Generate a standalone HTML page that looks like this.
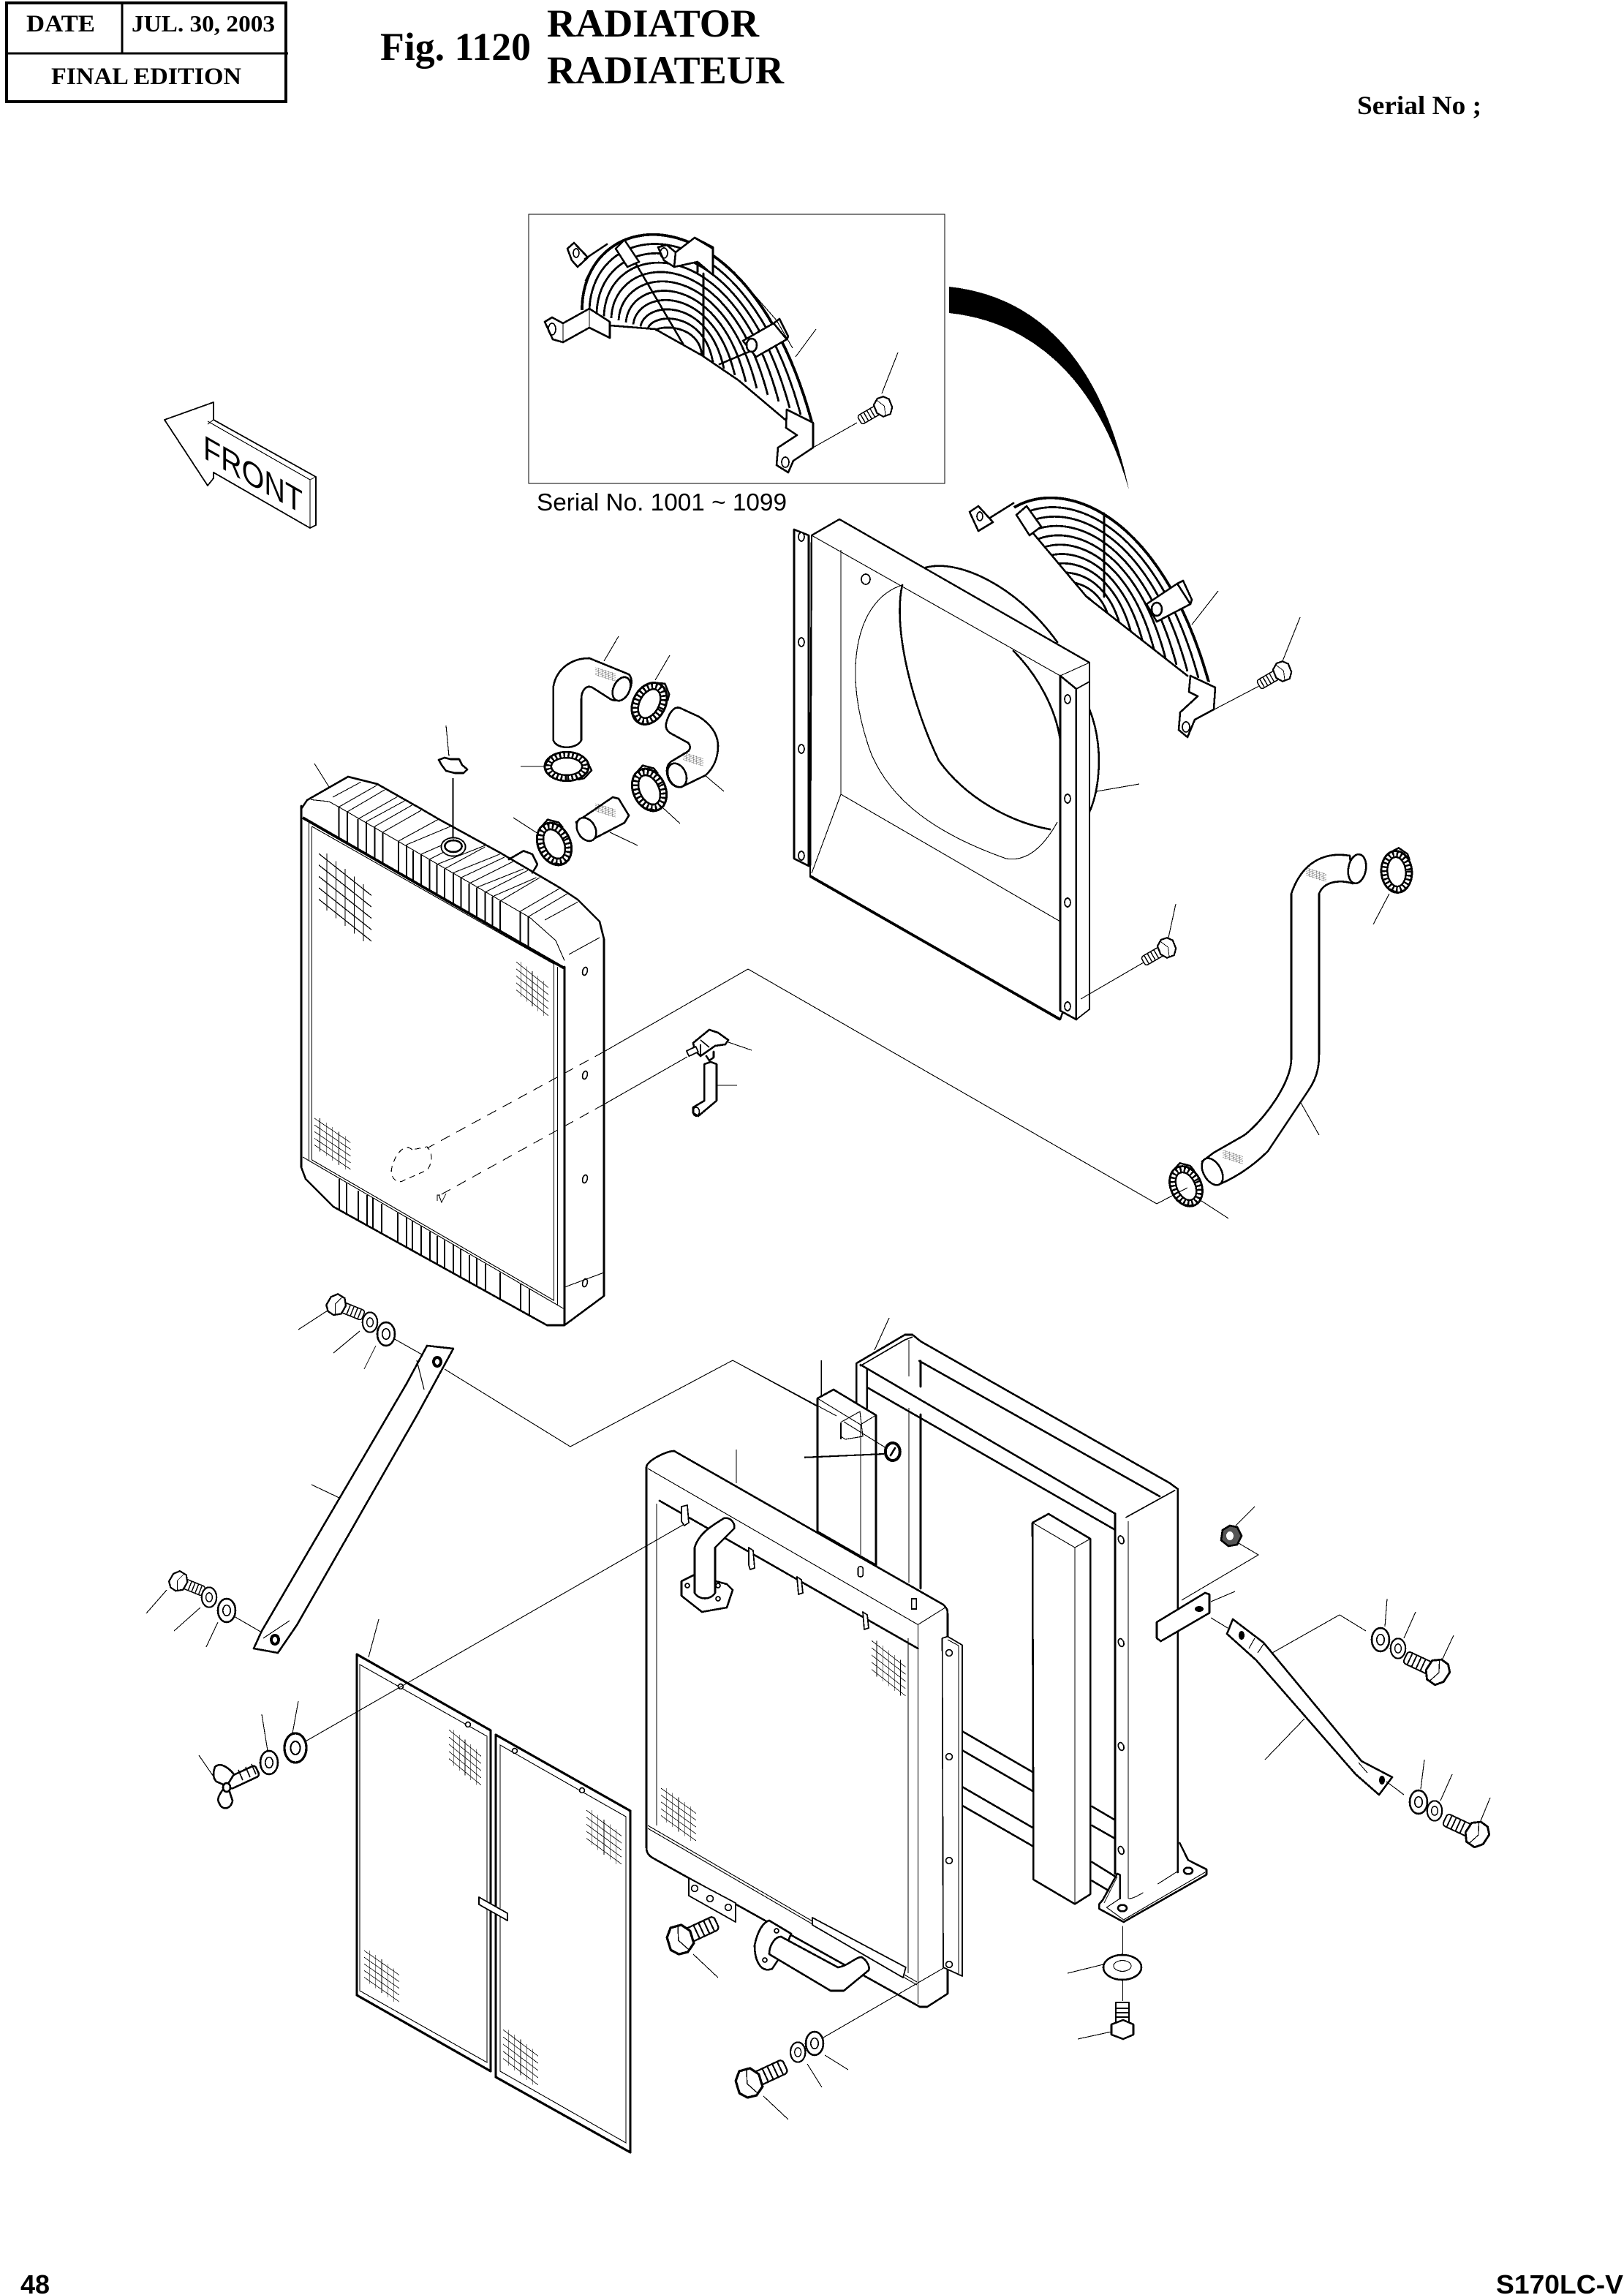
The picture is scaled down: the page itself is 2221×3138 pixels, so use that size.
<!DOCTYPE html>
<html><head><meta charset="utf-8"><title>Fig. 1120 Radiator</title>
<style>
html,body{margin:0;padding:0;background:#fff}
svg{display:block;position:absolute;left:0;top:0}
.k{fill:none;stroke:#000;stroke-width:1.3;stroke-linejoin:round;stroke-linecap:round}
.h{fill:none;stroke:#000;stroke-width:1.6;stroke-linejoin:round}
.w{fill:#fff;stroke:#000;stroke-width:1.3;stroke-linejoin:round}
.v{fill:#fff;stroke:#000;stroke-width:.9;stroke-linejoin:round}
.t{fill:none;stroke:#000;stroke-width:.55}
.m{fill:none;stroke:#000;stroke-width:.85}
.f{fill:none;stroke:#000;stroke-width:1.05}
.d{fill:none;stroke:#000;stroke-width:.55;stroke-dasharray:7 5}
.b{fill:none;stroke:#000;stroke-width:1.9;stroke-linejoin:round}
text{fill:#000}
.s{font-family:"Liberation Serif",serif;font-weight:bold}
.a{font-family:"Liberation Sans",sans-serif}
</style></head><body>
<svg width="2221" height="3138" viewBox="0 0 1110.5 1569" xmlns="http://www.w3.org/2000/svg" shape-rendering="crispEdges">
<defs>
<g id="clamp"><ellipse rx="11" ry="15" class="w" style="stroke-width:1.5"/><ellipse rx="8.8" ry="12.8" fill="none" stroke="#000" stroke-width="3.6" stroke-dasharray="1.3 1.6"/><ellipse rx="6.6" ry="10.6" class="w" style="stroke-width:1.3"/><path d="M-4 -14 3 -17 9 -12 10 -8M-6 12 -1 15" class="k"/></g>
<g id="bolt"><rect x="3" y="-4" width="19" height="8" rx="2" class="v"/><path d="M10 -4v8M13 -4v8M16 -4v8M19 -4v8" class="m"/><path d="M-6 -4 -2 -8 4 -7 7 -2 6 5 1 8 -4 7 -7 3Z" class="w"/><path d="M2 -7 -1 0 2 7" class="t"/></g>
<g id="washer"><ellipse rx="6" ry="8" class="w"/><ellipse rx="2.6" ry="3.6" class="m"/></g>
<g id="hatch" class="t"><path d="M0 2l40 22M0 8l40 22M0 14l40 22M0 20l40 22M0 26l40 22M6 2v30M13 6v30M20 10v30M27 14v30M34 18v30"/></g>
<clipPath id="cz"><path d="M434 184 471 228 540 282 575 292 575 140 408 145 420 165Z"/></clipPath>
<g id="arcs" fill="none" stroke="#000" stroke-width="1.4">
<path d="M398 212C398 140 510 125 555 288" stroke-width="1.9"/>
<path d="M403 213.4C403.4 148.2 506.8 134.7 547.5 283.5"/>
<path d="M408 214.8C408.8 156.4 503.6 144.4 540 279"/>
<path d="M413 216.2C414.2 164.6 500.4 154.1 532.5 274.5"/>
<path d="M418 217.6C419.6 172.8 497.2 163.8 525 270"/>
<path d="M423 219C425 181 494 173.5 517.5 265.5"/>
<path d="M428 220.4C430.4 189.2 490.8 183.2 510 261"/>
<path d="M433 221.8C435.8 197.4 487.6 192.9 502.5 256.5"/>
<path d="M438 223.2C441.2 205.6 484.4 202.6 495 252"/>
<path d="M443 224.6C446.6 213.8 481.2 212.3 487.5 247.5"/>
<path d="M448 226C452 222 478 222 480 243"/>
</g>
</defs>
<rect width="1110.5" height="1569" fill="#fff"/>

<!-- header -->
<rect x="4.5" y="2" width="191" height="67.5" fill="none" stroke="#000" stroke-width="2.2"/>
<path d="M83.5 2V37M4 36.5H197" stroke="#000" stroke-width="1.3" fill="none"/>
<text class="s" x="18" y="21.5" font-size="16.5" textLength="47" lengthAdjust="spacingAndGlyphs">DATE</text>
<text class="s" x="90" y="21.5" font-size="16" textLength="98" lengthAdjust="spacingAndGlyphs">JUL. 30, 2003</text>
<text class="s" x="35" y="57.5" font-size="16.5" textLength="130" lengthAdjust="spacingAndGlyphs">FINAL EDITION</text>
<text class="s" x="260" y="41" font-size="27" textLength="103" lengthAdjust="spacingAndGlyphs">Fig. 1120</text>
<text class="s" x="374" y="25" font-size="27" textLength="145" lengthAdjust="spacingAndGlyphs">RADIATOR</text>
<text class="s" x="374" y="57" font-size="27" textLength="162" lengthAdjust="spacingAndGlyphs">RADIATEUR</text>
<text class="s" x="928" y="78" font-size="18" textLength="85" lengthAdjust="spacingAndGlyphs">Serial No ;</text>
<text class="a" font-weight="bold" x="14" y="1568" font-size="18">48</text>
<text class="a" font-weight="bold" x="1023" y="1568" font-size="18" textLength="87" lengthAdjust="spacingAndGlyphs">S170LC-V</text>

<!-- FRONT arrow -->
<path class="v" d="M112.5 287 146 275V287L216 326V359L212 361 146 323V327L142 332Z"/>
<path class="t" d="M142 288 212 328V361M146 287 142 290M212 328 216 326"/>
<text class="a" font-size="23" transform="matrix(1 .57 0 1 139 313)" textLength="68" lengthAdjust="spacingAndGlyphs">FRONT</text>

<!-- inset -->
<rect x="361.5" y="146.5" width="284.5" height="184" fill="none" stroke="#000" stroke-width=".6"/>
<text class="a" x="367" y="349" font-size="16.5" textLength="171" lengthAdjust="spacingAndGlyphs">Serial No. 1001 ~ 1099</text>
<use href="#arcs"/>
<path class="t" d="M404 184 400 192M510 195 531 219 542 238"/>
<path class="k" d="M417 222.5 448 225 480 243 505 260 537 287"/>
<path class="k" d="M427 167 467 235M481 187V243M492 249 530 233"/>
<path class="w" d="M421 170 427 164 437 179 429 182.5Z"/>
<path class="w" d="M450 169 456 167.5 462 172.5 475 162.5 487.5 169V188L477 179 461 182.5 454 178Z"/><ellipse cx="454" cy="173" rx="2.5" ry="3.5" class="m"/>
<path class="k" d="M462 172.5 461 182.5M475 162.5 487.5 170M477 179V186"/>
<path class="w" d="M388 170 392.5 166 402 176 395 182.5 391 178Z"/><ellipse cx="394" cy="173" rx="2" ry="3" class="m"/><path class="k" d="M400 177 415 167"/>
<path class="w" d="M372.5 220 377.5 217 385 221 403 211 417 220V231L403 224 385 234 378 232Z"/><ellipse cx="377.5" cy="225" rx="2.5" ry="4" class="m"/><path class="t" d="M385 221V234M403 211V224"/>
<path class="w" d="M508 233 529 221 538 232 517 244Z"/><path class="k" d="M529 221 533 218 539 230 538 232"/><ellipse cx="514" cy="236" rx="3.5" ry="4.5" class="w"/>
<path class="w" d="M538 280 537.5 292.5 545 297.5 532 306 531 318 539 323 542.5 315 556 306V289Z"/><ellipse cx="537" cy="316" rx="2.5" ry="3.5" class="m"/>
<path class="t" d="M544 244 558 225M556 306 586 289"/>
<use href="#bolt" transform="translate(604 278) rotate(150) scale(.85)"/>
<path class="t" d="M603 269 614 241"/>
<path d="M649 196C705 202 752 240 772 335 750 258 705 220 649 214Z" fill="#000"/>

<!-- second guard -->
<g transform="translate(272 180)"><use href="#arcs" clip-path="url(#cz)"/></g>
<path class="k" d="M706 364 743 408 812 462"/>
<path class="k" d="M755 351V408"/>
<path class="w" d="M695 352 702 346 712 360 704 366Z"/>
<path class="w" d="M663 350 669 346 679 357 669 363Z"/><ellipse cx="670" cy="353" rx="2" ry="3" class="m"/><path class="k" d="M677 354 693 344"/>
<path class="w" d="M784 413 805 399 814 413 791 425Z"/><path class="k" d="M805 399 809 397 815 410 814 413"/><ellipse cx="791" cy="416.5" rx="3.5" ry="4.5" class="w"/>
<path class="w" d="M814 462 813 473 819 476 807 487 806 499 812 504 817 492 830 485 831 470Z"/><ellipse cx="811" cy="497" rx="2.5" ry="3.5" class="m"/>
<path class="t" d="M815 427 833 404M817 492 861 469"/>
<use href="#bolt" transform="translate(877 459) rotate(150) scale(.85)"/>
<path class="t" d="M877 452 889 422"/>

<!-- shroud -->
<path class="k" d="M633 388C655 382 695 400 723 439M745 485C755 510 752 540 745 555M744 637 738 657"/>
<path class="w" d="M543 362 553 366V592L543 587Z"/>
<g class="v"><ellipse cx="548" cy="367" rx="2" ry="3"/><ellipse cx="548" cy="439" rx="2" ry="3"/><ellipse cx="548" cy="512" rx="2" ry="3"/><ellipse cx="548" cy="585" rx="2" ry="3"/></g>
<path class="w" d="M555 366 574 355 745 453V637L725 697 554 599Z" style="stroke-width:1.2"/>
<path class="t" d="M555 366 725 462M575 376V543L725 630M575 543 555 597M745 453 725 462"/>
<path class="t" d="M617 400C585 410 575 460 596 516 610 548 640 570 688 587 700 589 712 582 723 562"/>
<path class="k" d="M617 400C610 430 625 485 642 520 660 545 690 562 718 567"/>
<path class="k" d="M693 445C710 462 722 485 725 506"/>
<ellipse cx="592" cy="396" rx="3" ry="3.5" class="m"/>
<path class="w" d="M725 462 736 471V697L725 691Z"/>
<path class="v" d="M736 471 745 466V690L736 697Z"/>
<g class="v"><ellipse cx="730" cy="478" rx="2" ry="3"/><ellipse cx="730" cy="546" rx="2" ry="3"/><ellipse cx="730" cy="617" rx="2" ry="3"/><ellipse cx="730" cy="688" rx="2" ry="3"/></g>
<path class="b" d="M554 599 725 697"/>
<path class="t" d="M750 541 779 536M739 683 782 658M799 641 804 618"/>
<use href="#bolt" transform="translate(798 648) rotate(150) scale(.85)"/>

<!-- long hose -->
<path class="w" d="M923 585C905 582 890 590 883 611V724C883 740 865 765 851 776L830 788 822 794 833 810C850 803 862 792 867 787L895 745C902 735 902 725 902 720V611C905 603 915 601 925 604Z"/>
<ellipse cx="928" cy="594" rx="6" ry="10" transform="rotate(10 928 594)" class="w"/>
<ellipse cx="829" cy="801" rx="6" ry="10" transform="rotate(-30 829 801)" class="w"/>
<use href="#hatch" transform="translate(893 593) scale(.35 .2)"/>
<use href="#hatch" transform="translate(836 786) scale(.35 .2)"/>
<path class="t" d="M889 753 902 776"/>
<use href="#clamp" transform="translate(955 596) rotate(-5) scale(.95)"/>
<path class="t" d="M950 611 939 632"/>
<use href="#clamp" transform="translate(811 811) rotate(-25) scale(.95)"/>
<path class="t" d="M820 820 840 833"/>

<!-- radiator -->
<path class="w" d="M206 553 210 547 238 531 258 536 288 553 300 560 342 583 383 607 395 615 410 630 413 642V886L386 906H374L228 825 209 806 206 798Z"/>
<path class="b" d="M207 559 386 662"/>
<path class="k" d="M206 551V798M386 661V905"/>
<path class="t" d="M211.3 561V793M213.3 565V793L378.7 889V659M213.3 565 378.7 659M381.3 661V892M207 791 386 895"/>
<path class="f" d="M231.7 551.7V573.5M237.5 555V576.8M244.7 560V580.8M250.5 561.7V584M256.3 565V587.5M261.7 569V590.5M272.5 575V596.8M278 577.5V599.8M282.5 581.7V602.5M288 584V605.7M293.7 587.5V608.8M298.7 591V611.7M304 594V614.8M310 596.7V618M315.3 600V621M320.8 604V624M326 606.7V627.5M331.7 610V630.5M336.7 613V633M342 616V636.5M355.8 623V644M361.3 626.7V647.5"/>
<path class="f" d="M232 806V827M237 809V830M245 814V834M251 817V838M255 819V840M261 823V843M272 829V849M278 832V853M282 835V855M288 838V858M294 842V862M299 845V864M304 848V867M310 851V870M315 854V873M321 858V876M326 860V879M332 864V883M342 870V888M356 878V896M362 881V899"/>
<path class="t" d="M231.7 551.7 361.3 626.7M231.7 551.7 258 536.7M237.5 555 263 540M244.7 560 271.7 544.7M250.5 561.7 276.7 547.5M256.3 565 282.5 550M261.7 569 288 554M272.5 575 300 560M278 577.5 308 565M288 584 301.7 578M293.7 587.5 306.7 581M298.7 591 331.7 578M304 594 331.7 579M310 596.7 341.7 584M315.3 600 345 586M320.8 604 351 589M326 606.7 358 594M331.7 610 361 595M336.7 613 366.7 600M342 616 369 600M355.8 623 382.5 607.5M361.3 626.7 388 611"/>
<path class="t" d="M212.5 546.7 225 548 231.7 551.7M227.5 545 246.7 534.7M361.7 626.7 380 643 386 656.7M372.5 629 395 616.7M389 652.5 410 641M386 880 413 870"/>
<g class="m"><ellipse cx="400" cy="664" rx="1.6" ry="2.8" transform="rotate(15 400 664)"/><ellipse cx="400" cy="735" rx="1.6" ry="2.8" transform="rotate(15 400 735)"/><ellipse cx="400" cy="806" rx="1.6" ry="2.8" transform="rotate(15 400 806)"/><ellipse cx="400" cy="877" rx="1.6" ry="2.8" transform="rotate(15 400 877)"/></g>
<use href="#hatch" transform="translate(218 581) scale(.9 1.3)"/>
<use href="#hatch" transform="translate(353 656) scale(.55 .8)"/>
<use href="#hatch" transform="translate(215 763) scale(.62 .76)"/>
<path class="d" d="M282 786C276 781 270 790 268 798 266 805 272 810 276 807L292 800C296 795 296 788 292 784Z" style="stroke-dasharray:4 3"/>
<path class="t" d="M300 817 302 822 305 816M301 817h-2v4"/>
<ellipse cx="310" cy="579" rx="8.3" ry="6.3" class="v"/><ellipse cx="310" cy="578.5" rx="5.8" ry="4" class="k"/>
<path class="m" d="M309.7 532V573"/>
<path class="w" d="M300 519.5 304 518 308 519 314 519 316 523 319.6 526 317 528.5 311 528.5 305 527 302 523Z"/>
<path class="t" d="M307 517 305 496M225 538 215 522"/>

<!-- connectors -->
<path class="t" d="M413 719 511.5 662.5 791 823 812 812"/>
<path class="d" d="M413 719 292 785M413 755 301 817"/>
<path class="t" d="M470 722.5 413 755"/>

<!-- hoses -->
<path class="w" d="M378.3 506V470C380 458 390 450 403 450L430 461C433 464 432 470 429 475 426 479 420 480 416.7 477.5L405 470C401 468 397.5 472 397.5 478V506C395 512 381 513 378.3 506Z"/>
<ellipse cx="425" cy="471" rx="5.5" ry="8.5" transform="rotate(25 425 471)" class="w"/>
<use href="#hatch" transform="translate(407 456) scale(.35 .2)"/>
<path class="t" d="M413 452 423 435"/>
<use href="#clamp" transform="translate(444 481) rotate(28)"/>
<path class="t" d="M448 465 458 448"/>
<path class="w" d="M465 484 478 490C486 495 491 502 491 510 491 518 488 525 482.5 530L466 538C460 539 456 533 456 527 456 523 458 521 460 520L470 514C473 512 472 508 469 507L458 501C454 498 455 494 458 488 460 485 462 483 465 484Z"/>
<ellipse cx="463" cy="530" rx="6" ry="8.5" transform="rotate(-25 463 530)" class="w"/>
<use href="#hatch" transform="translate(467 514) scale(.35 .2)"/>
<path class="t" d="M482 530 495 541"/>
<use href="#clamp" transform="translate(387.5 524) rotate(90) scale(.9 1)"/>
<path class="t" d="M356 524 373 524"/>
<use href="#clamp" transform="translate(444 540) rotate(-25)"/>
<path class="t" d="M453 552 465 563"/>
<path class="w" d="M394 562 419 545 423 546 430 557.5 427 562.5 403 575 397 572Z"/>
<ellipse cx="401" cy="567" rx="6" ry="8.5" transform="rotate(-30 401 567)" class="w"/>
<use href="#hatch" transform="translate(407 549) scale(.35 .2)"/>
<path class="t" d="M417 569 436 578"/>
<path class="k" d="M348 587.5 358 581.7 364 584 367.5 591 364 596.7"/>
<use href="#clamp" transform="translate(379 577) rotate(-25)"/>
<path class="t" d="M368 570 351 559"/>

<!-- sensor -->
<path class="w" d="M474 713 485 704 491 706 498 711 496 714 489 715 479 722 475 718Z"/>
<path class="m" d="M479 711 485 716M479 722V714"/>
<rect x="470" y="717" width="7" height="4" class="v" transform="rotate(-25 473 719)"/>
<path class="k" d="M483 722 485 725 488 723 488 719"/>
<path class="t" d="M498 712.5 514 718M490 742 504 742"/>
<path class="w" d="M481.7 727.5 486 726 490 727.5V752.5L477.5 763 474 761V757L481.7 752.5Z"/>
<ellipse cx="476" cy="760" rx="2.2" ry="3" class="m"/>

<!-- upper stay -->
<use href="#bolt" transform="translate(230 892) rotate(22) scale(.9)"/>
<use href="#washer" transform="translate(253 904) scale(.85)"/>
<use href="#washer" transform="translate(264 912)"/>
<path class="t" d="M224 896 204 909M246 910 228 925M257 920 249 936M269 915 292 928"/>
<path class="w" d="M292 920 310 922 286 966 203 1111 190 1130 173.5 1127 179 1115 278 946Z"/>
<path class="t" d="M285 930 290 950M198 1108 180 1120"/>
<ellipse cx="299" cy="931" rx="3.5" ry="4" fill="#000"/><ellipse cx="188" cy="1121" rx="3.5" ry="4" fill="#000"/>
<ellipse cx="299" cy="931" rx="1.5" ry="2" fill="#fff"/><ellipse cx="188" cy="1121" rx="1.5" ry="2" fill="#fff"/>
<path class="t" d="M232 1024 213 1015M304 936 390 989 501 930 578 972"/>
<use href="#bolt" transform="translate(122 1081) rotate(22) scale(.85)"/>
<use href="#washer" transform="translate(143 1092) scale(.85)"/>
<use href="#washer" transform="translate(155 1101)"/>
<path class="t" d="M114 1087 100 1103M137 1099 119 1115M149 1109 141 1126M160 1105 179 1116"/>

<!-- wing bolt -->
<rect x="155" y="1211" width="22" height="8" rx="2" class="w" transform="rotate(-25 166 1215)"/>
<path class="m" d="M163 1210l3 7M168 1208l3 7M172 1206l3 7"/>
<path class="w" d="M147 1208C150 1205 155 1207 160 1213L155 1221 148 1218C145 1215 146 1211 147 1208Z"/>
<path class="w" d="M152 1224 156 1222 159 1231C158 1237 152 1238 150 1233 148 1230 150 1227 152 1224Z"/>
<ellipse cx="155" cy="1222" rx="2.5" ry="3" class="w"/>
<use href="#washer" transform="translate(184 1205)"/>
<use href="#washer" transform="translate(202 1195) scale(1.25)"/>
<path class="t" d="M183 1197 179 1172M200 1185 204 1163M147 1216 136 1200"/>

<!-- screens -->
<path class="h" d="M244 1131 335.5 1183V1416L244 1364Z"/>
<path class="t" d="M246 1138 333 1187V1410L246 1361Z"/>
<path class="h" d="M339 1186 431 1238V1471.5L339 1420Z"/>
<path class="t" d="M342 1193 428 1242V1465L342 1416Z"/>
<path class="t" d="M252 1133 259 1107"/>
<path class="v" d="M327.5 1297 347 1308V1313L327.5 1302Z"/>
<g class="v"><circle cx="274" cy="1153" r="1.7"/><circle cx="320" cy="1179" r="1.7"/><circle cx="352" cy="1197" r="1.7"/><circle cx="398" cy="1224" r="1.7"/></g>
<use href="#hatch" transform="translate(307 1181) scale(.55 .82)"/>
<use href="#hatch" transform="translate(249 1332) scale(.6 .76)"/>
<use href="#hatch" transform="translate(401 1236) scale(.6 .8)"/>
<use href="#hatch" transform="translate(344 1386) scale(.6 .82)"/>

<!-- tank frame -->
<path class="k" d="M585.7 962V932L618.8 912.5H624L629.5 917 800 1014 805.4 1018V1280"/>
<path class="k" d="M588.4 933 762.5 1034.8M593.8 949 762 1045.6M628.6 930.4 793 1023M629.5 930.4V948M629.5 967V1086M592.9 935.7V962.5"/>
<path class="m" d="M588 934 618.8 916 624 914M769.7 1037.5 803.6 1018.8"/>
<path class="t" d="M621.4 916V941M621.4 962.5V1082"/>
<path class="k" d="M658 1183.6 706 1211.4M658 1196.6 706 1224.4M658 1221.6 706 1249.4M658 1234.4 706 1262M746.7 1235 762 1244M746.7 1248 762 1256.7M746.7 1273 762 1282.5M746.7 1285.8 758 1292.5"/>
<path class="k" d="M762.5 1035V1281"/>
<path class="t" d="M771.5 1040V1298M771.7 1298C775 1298 778 1296 781.7 1294M805.8 1279 791.7 1288"/>
<g class="m"><ellipse cx="766.6" cy="1052.7" rx="1.8" ry="2.8" transform="rotate(-20 766.6 1052.7)"/><ellipse cx="766.6" cy="1123" rx="1.8" ry="2.8" transform="rotate(-20 766.6 1123)"/><ellipse cx="766.6" cy="1194" rx="1.8" ry="2.8" transform="rotate(-20 766.6 1194)"/><ellipse cx="766.6" cy="1265" rx="1.8" ry="2.8" transform="rotate(-20 766.6 1265)"/></g>
<path class="k" d="M806.7 1260 812.5 1271.7 825 1278V1281.7L768.3 1314 751.7 1305V1301.7L754 1299 764 1281 765.8 1281.7V1298"/>
<path class="t" d="M765.8 1298 756.7 1304 768.3 1312.5 824 1280M755 1301 764 1283"/>
<ellipse cx="767.5" cy="1304.5" rx="3" ry="2.2" class="k"/><ellipse cx="812.5" cy="1279" rx="3" ry="2.2" class="k"/>
<path class="w" d="M706 1041 717 1035 745.6 1052V1295L735 1301.7 706.7 1285Z"/>
<path class="t" d="M706 1041 735 1058 745.6 1052M735 1058V1301"/>

<!-- left block -->
<path class="w" d="M559 956 570 950 599 967.5V1070L559 1047Z"/>
<path class="t" d="M559 956 588.4 974 599 967.5M588.4 974V1063M561.6 930V955"/>
<path class="t" d="M575 972.3 588 965 590 982 578 984 575 982Z"/>
<path class="m" d="M575 973V984"/>
<path class="t" d="M577 972 606 990M501 930 572 968"/>
<path class="t" d="M598 923 608 901"/>
<ellipse cx="610.4" cy="992.5" rx="5" ry="6" fill="#fff" stroke="#000" stroke-width="2"/><path class="k" d="M609 995 612 990"/>
<path class="f" d="M550 996.4 604.5 994"/>

<!-- cooler -->
<path class="w" d="M442 1003C442 999 455 992 461 992L645 1097C648 1100 648 1101 648 1104V1363L634 1372H629L446 1270C443 1268 442 1266 442 1263Z"/>
<path class="t" d="M443 1004 627.7 1110.7 646.4 1099M449 1028V1248M621 1120V1349M503.5 1014 503.5 991"/>
<path class="t" d="M627.7 1110.7V1370"/>
<path class="t" d="M443 1248 627 1355M443 1250 627 1357"/>
<path class="k" d="M451 1026 627.7 1127"/>
<use href="#hatch" transform="translate(596 1120) scale(.58 .82)"/>
<use href="#hatch" transform="translate(452 1221) scale(.6 .78)"/>
<path class="v" d="M644.3 1120 648 1118.8 658 1124.7V1351L645 1345Z"/>
<path class="t" d="M655.4 1125V1350M648 1121 655.4 1125"/>
<g class="m"><circle cx="649" cy="1130" r="2.2"/><circle cx="649" cy="1201" r="2.2"/><circle cx="649" cy="1272" r="2.2"/><circle cx="649" cy="1343" r="2.2"/></g>
<g class="v"><path d="M466 1030 470 1029 471 1041 468 1043 466 1040Z"/><path d="M512 1058 515 1060 516 1072 513 1073 512 1070Z"/><path d="M545 1078 548 1080 549 1089 546 1090Z"/><path d="M590 1102 593 1104 594 1113 591 1114Z"/></g>
<rect x="586.7" y="1071" width="3.4" height="7" rx="1.5" class="m"/><rect x="623.4" y="1093" width="3.2" height="7" class="m"/>
<path class="w" d="M466 1081 474 1077 497 1083 501 1087 497 1099 480 1102 466 1091Z"/>
<path class="w" d="M475 1089V1058C478 1048 487 1043 495 1038 500 1037 503 1042 502 1045L489 1058V1089C486 1094 478 1094 475 1089Z"/>
<circle cx="470" cy="1084" r="1.5" class="m"/><circle cx="491" cy="1093" r="1.5" class="m"/><circle cx="491" cy="1084" r="1.5" class="m"/>

<path class="v" d="M471 1284 503 1301V1314L471 1296Z"/>
<g class="m"><circle cx="475" cy="1291" r="2.2"/><circle cx="485.5" cy="1298" r="2.2"/><circle cx="498" cy="1304" r="2.2"/></g>
<use href="#bolt" transform="translate(465 1326) rotate(-25) scale(1.25)"/>
<path class="t" d="M474 1336 491 1352"/>
<path class="v" d="M555.5 1311 619.4 1345 617.5 1352 555.5 1316Z"/>
<path class="w" d="M516 1330C518 1320 522 1314 526 1313L541 1322 536 1334 528 1346C520 1349 516 1340 516 1330Z"/>
<path class="w" d="M526 1336C526 1330 530 1324 534 1324L573 1345C580 1344 585 1338 589 1338 593 1340 595 1345 594 1347L577 1361H568Z"/>
<circle cx="531" cy="1320" r="1.5" class="m"/><circle cx="523" cy="1340" r="1.5" class="m"/>
<use href="#bolt" transform="translate(512 1424) rotate(-25) scale(1.25)"/>
<use href="#washer" transform="translate(545.6 1403) scale(.85)"/>
<use href="#washer" transform="translate(557 1397)"/>
<path class="t" d="M522 1433 539 1449M552 1411 562 1427M564 1405 580 1415M563 1393 646 1345"/>

<!-- line through cooler and screens -->
<path class="t" d="M208 1191 468 1042"/>

<!-- right side -->
<path d="M841 1043 846 1044 849 1050 846 1056 840 1057 835 1053 836 1046Z" fill="#555" stroke="#000" stroke-width="1.3"/>
<ellipse cx="841" cy="1050" rx="2.5" ry="3" fill="#fff"/>
<path class="t" d="M845 1043 858 1030M847 1055 860.5 1063 808 1094"/>
<path class="w" d="M791 1109 824 1089 827 1090V1102.7L793.8 1122 791 1120Z"/>
<ellipse cx="820" cy="1100" rx="3" ry="2" fill="#000"/>
<path class="t" d="M828 1095 844.5 1088M828 1106 839.5 1113"/>
<path class="w" d="M843 1107 864 1123 931 1204 952 1215 943 1227 927 1213 859 1135 839 1117Z"/>
<ellipse cx="849" cy="1118" rx="2" ry="3" fill="#000"/><ellipse cx="945" cy="1217" rx="2" ry="3" fill="#000"/>
<path class="t" d="M854 1127 858 1120M860 1130 864 1124M935 1212 929 1205M870 1130 916 1104 934 1115M892 1175 865 1203M948 1218 960 1227"/>
<use href="#washer" transform="translate(944 1121)"/>
<use href="#washer" transform="translate(956 1127) scale(.85)"/>
<use href="#bolt" transform="translate(983 1143) rotate(205) scale(1.1)"/>
<path class="t" d="M947 1112 948.5 1093M960 1120 968 1102M986 1135 994 1118"/>
<use href="#washer" transform="translate(970 1232)"/>
<use href="#washer" transform="translate(981 1238) scale(.85)"/>
<use href="#bolt" transform="translate(1010 1254) rotate(205) scale(1.1)"/>
<path class="t" d="M971.5 1223 974 1203M985 1231 993 1213M1012 1246 1019 1229"/>
<path class="t" d="M767.7 1316.7V1368M754.5 1343 730 1349M760 1389 737 1394"/>
<ellipse cx="767.5" cy="1345" rx="13" ry="8.5" class="w"/><ellipse cx="767.5" cy="1344" rx="6" ry="3.7" class="t"/>
<path class="v" d="M763 1369H772V1383H763Z"/>
<path class="m" d="M763 1373h9M763 1376h9M763 1379h9"/>
<path class="w" d="M760 1384 768 1381 775 1384V1391L768 1394 760 1391Z"/>
</svg>
</body></html>
